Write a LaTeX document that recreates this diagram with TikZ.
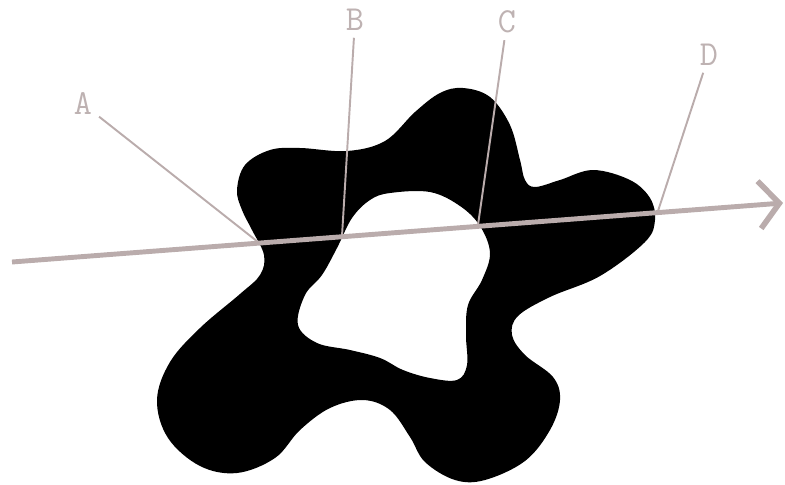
\documentclass[tikz,border=0pt]{standalone}
\usetikzlibrary{arrows.meta}

\definecolor{raygray}{RGB}{186,172,172}
\definecolor{taggray}{RGB}{190,178,178}

\begin{document}
\begin{tikzpicture}[
    x=0.02cm, y=-0.02cm,
    every node/.style = {font=\ttfamily\fontsize{20}{22}\selectfont},
    tag/.style        = {text=taggray, inner sep=0pt, outer sep=4pt},
    leader/.style     = {draw=raygray, line width=1.1pt},
    ray/.style        = {draw=raygray, line width=2.8pt,
                          -{Straight Barb[length=4mm, width=9.5mm, line width=3.2pt]}},
    blob/.style       = {fill=black, even odd rule},
]
\useasboundingbox (0,0) rectangle (785,484);

% The region: outer outline with one hole
\fill[blob]
    plot[smooth cycle, tension=0.6] coordinates {
        (237,190) (245,165) (270,150) (300,148) (347,151) (385,141)
        (415,112) (440,93) (463,88) (490,97) (510,125) (520,160)
        (525,180) (535,187) (560,180) (593,170) (630,180) (650,198)
        (655,220) (645,242) (600,276) (550,297) (518,316) (512,335)
        (525,355) (553,377) (560,400) (550,430) (525,461) (485,480)
        (455,480) (425,462) (410,437) (390,410) (363,400) (330,408)
        (300,430) (275,458) (237,473) (200,466) (168,438) (157,400)
        (170,362) (200,328) (240,294) (260,275) (264,255) (252,230)
        (242,210)}
    plot[smooth cycle, tension=0.6] coordinates {
        (370,200) (390,193) (430,192) (460,206) (480,226) (490,253)
        (482,280) (468,305) (466,335) (467,365) (457,380) (430,378)
        (403,370) (380,358) (350,350) (317,343) (298,325) (305,295)
        (322,275) (337,248) (352,218)};

% Crossing points on the ray
\coordinate (rayS) at (12,262);
\coordinate (rayE) at (783,203);
\coordinate (xA) at (258,242);
\coordinate (xB) at (342,236);
\coordinate (xC) at (478,225);
\coordinate (xD) at (658,211);

% Labels
\node[tag] (A) at (83,104) {A};
\node[tag] (B) at (355,20) {B};
\node[tag] (C) at (507,22) {C};
\node[tag] (D) at (709,55) {D};

\foreach \p in {A, B, C, D} {
    \draw[leader] (\p) -- (x\p);
}

% The ray
\draw[ray] (rayS) -- (rayE);

\end{tikzpicture}
\end{document}
